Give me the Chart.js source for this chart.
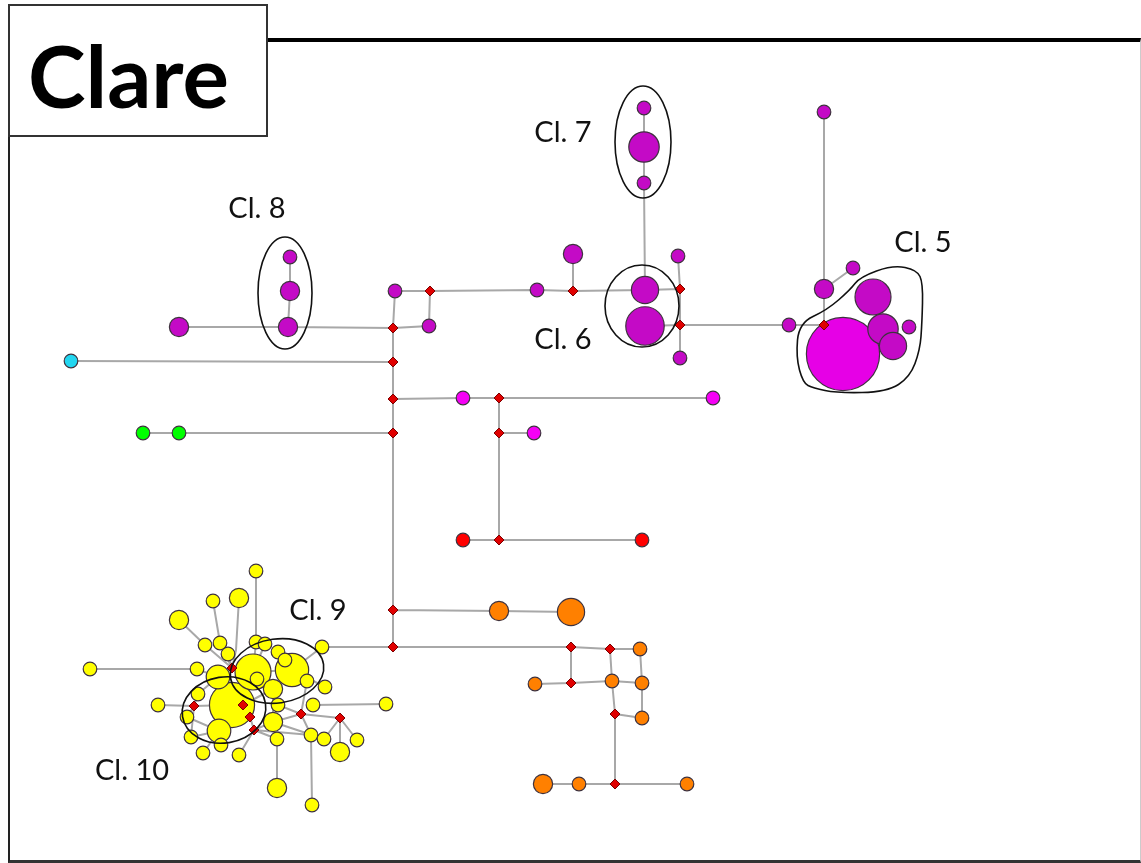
<!DOCTYPE html>
<html>
<head>
<meta charset="utf-8">
<script src="https://cdn.jsdelivr.net/npm/chart.js@4.4.0/dist/chart.umd.min.js"></script>
<style>
  html, body { margin: 0; padding: 0; background: #fff; }
  #wrap { position: relative; width: 1141px; height: 863px; overflow: hidden; }
  #net { position: absolute; left: 0; top: 0; }
  .frame {
    position: absolute; left: 8px; top: 38px; width: 1130px; height: 818px;
    border-top: 4px solid #000; border-left: 2px solid #222;
    border-bottom: 3px solid #333; border-right: 1px solid #ccc;
    pointer-events: none;
  }
  .title {
    position: absolute; left: 8px; top: 4px; width: 256px; height: 129px;
    border: 2px solid #333; background: #fff;
    font-family: Lato, "Open Sans", sans-serif; font-weight: bold; font-size: 87px;
    line-height: 129px; box-sizing: content-box;
  }
  .title span { position: absolute; left: 18px; top: 4px; color: #000; }
</style>
</head>
<body>
<div id="wrap">
  <canvas id="net" width="1141" height="863"></canvas>
  <div class="frame"></div>
  <div class="title"><span>Clare</span></div>
</div>
<script>
// haplotypes: [x, y, count] in layout units
const purpleNodes = [
  [290, 257, 1], [290, 291, 2], [288, 327, 2], [179, 327, 2],
  [395, 291, 1], [429, 326, 1], [537, 290, 1], [573, 254, 2],
  [678, 256, 1], [680, 358, 1],
  [644, 108, 1], [644, 147, 5], [644, 183, 1],
  [645, 290, 4], [645, 326, 8],
  [824, 112, 1], [824, 289, 2], [853, 268, 1], [789, 325, 1],
  [873, 297, 7], [883, 329, 5], [893, 346, 4], [909, 327, 1]
];
const pinkNodes = [[843, 354, 29]];
const magentaNodes = [[463, 398, 1], [713, 398, 1], [534, 433, 1]];
const redNodes = [[463, 540, 1], [642, 540, 1]];
const greenNodes = [[143, 433, 1], [179, 433, 1]];
const cyanNodes = [[71, 361, 1]];
const orangeNodes = [
  [499, 611, 2], [571, 612, 4], [640, 649, 1], [535, 684, 1],
  [612, 681, 1], [642, 683, 1], [642, 718, 1],
  [543, 784, 2], [579, 784, 1], [687, 784, 1]
];
const yellowNodes = [
  [256, 571, 1], [239, 598, 2], [213, 601, 1], [179, 620, 2], [90, 669, 1],
  [205, 645, 1], [220, 643, 1], [228, 654, 1], [256, 642, 1], [265, 644, 1],
  [278, 652, 1], [285, 660, 1], [322, 647, 1],
  [253, 672, 7], [292, 670, 6], [218, 677, 3], [232, 705, 11], [219, 731, 3],
  [273, 689, 2], [273, 722, 2], [307, 681, 1], [325, 687, 1], [257, 679, 1],
  [197, 669, 1], [198, 694, 1], [158, 705, 1], [187, 717, 1], [191, 737, 1],
  [221, 745, 1], [203, 753, 1], [239, 755, 1], [278, 705, 1], [277, 739, 1],
  [313, 705, 1], [311, 735, 1], [324, 739, 1], [340, 752, 2], [357, 740, 1],
  [386, 704, 1], [277, 788, 2], [312, 805, 1]
];
// median vectors
const medianVectors = [
  [393, 328], [393, 362], [393, 399], [393, 433], [393, 610], [393, 647],
  [430, 291], [573, 291], [680, 289], [680, 325], [824, 325],
  [499, 398], [499, 433], [499, 540],
  [571, 647], [610, 649], [571, 683], [615, 714], [615, 784],
  [232, 668], [194, 706], [243, 705], [250, 717], [254, 730], [301, 714], [340, 718]
];
// links, as paths through nodes
const edgePaths = [
  [[179, 327], [288, 327], [393, 328]],
  [[290, 257], [290, 291], [288, 327]],
  [[395, 291], [393, 328], [393, 362], [393, 399], [393, 433], [393, 610], [393, 647]],
  [[395, 291], [430, 291], [537, 290], [573, 291], [645, 290], [680, 289]],
  [[430, 291], [429, 326], [393, 328]],
  [[573, 254], [573, 291]],
  [[644, 108], [644, 147], [644, 183], [645, 290]],
  [[678, 256], [680, 289], [680, 325], [680, 358]],
  [[645, 326], [680, 325], [789, 325], [824, 325]],
  [[824, 112], [824, 289], [824, 325]],
  [[824, 289], [853, 268]],
  [[71, 361], [393, 362]],
  [[143, 433], [179, 433], [393, 433]],
  [[393, 399], [463, 398], [499, 398], [713, 398]],
  [[499, 398], [499, 433], [499, 540]],
  [[499, 433], [534, 433]],
  [[463, 540], [499, 540], [642, 540]],
  [[393, 610], [499, 611], [571, 612]],
  [[393, 647], [571, 647], [610, 649], [640, 649]],
  [[571, 647], [571, 683]],
  [[535, 684], [571, 683], [612, 681], [642, 683]],
  [[610, 649], [612, 681], [615, 714], [615, 784]],
  [[640, 649], [642, 683], [642, 718]],
  [[615, 714], [642, 718]],
  [[543, 784], [579, 784], [615, 784], [687, 784]],
  // clare cluster 9/10
  [[322, 647], [393, 647]],
  [[256, 571], [256, 642], [253, 672]],
  [[239, 598], [236, 650], [232, 668]],
  [[213, 601], [220, 643], [232, 668]],
  [[179, 620], [205, 645], [232, 668]],
  [[90, 669], [197, 669], [218, 677]],
  [[228, 654], [232, 668]],
  [[265, 644], [253, 672]],
  [[278, 652], [292, 670], [285, 660]],
  [[322, 647], [292, 670]],
  [[232, 668], [253, 672], [292, 670], [307, 681]],
  [[253, 672], [257, 679], [273, 689]],
  [[292, 670], [325, 687]],
  [[232, 668], [218, 677], [232, 705]],
  [[158, 705], [194, 706], [232, 705], [243, 705], [250, 717], [254, 730], [273, 722]],
  [[198, 694], [194, 706], [187, 717]],
  [[194, 706], [191, 737]],
  [[219, 731], [221, 745]],
  [[219, 731], [203, 753]],
  [[232, 705], [219, 731], [187, 717]],
  [[239, 755], [254, 730], [311, 735]],
  [[273, 689], [273, 722], [277, 739], [277, 788]],
  [[273, 689], [278, 705], [301, 714]],
  [[273, 722], [301, 714], [340, 718]],
  [[243, 705], [273, 689]],
  [[313, 705], [386, 704]],
  [[340, 718], [340, 752]],
  [[340, 718], [357, 740]],
  [[311, 735], [312, 805]],
  [[311, 735], [301, 714]],
  [[324, 739], [340, 718]],
  [[273, 722], [324, 739]],
  [[307, 681], [301, 714]],
  [[198, 694], [218, 677]],
  [[191, 737], [219, 731]],
  [[254, 730], [277, 739]]
];
const clusterNames = ['Cl. 5', 'Cl. 6', 'Cl. 7', 'Cl. 8', 'Cl. 9', 'Cl. 10'];
const clusterLabelAt = [[923, 243], [563, 340], [563, 133], [257, 209], [318, 611], [132, 771]];
// [cx, cy, rx, ry, tilt in degrees]; Cl. 5 uses an outline instead
const clusterEllipses = [
  null,
  [642, 306, 37, 41, 0],
  [643, 142, 28, 56, 0],
  [285, 293, 27, 56, 0],
  [277, 671, 47, 32, -8],
  [224, 710, 42, 33, -9]
];
const cl5Outline = [
  [803, 383], [796, 357], [799, 323], [827, 310], [850, 290], [860, 277],
  [893, 265], [917, 270], [923, 283], [922, 323], [920, 350], [910, 377],
  [887, 392], [837, 393], [813, 388]
];

const groupColors = {
  purple: '#c40ac6', pink: '#e600e6', magenta: '#f600f6', red: '#ff0000',
  green: '#00ff00', cyan: '#22d6f0', orange: '#ff8000', yellow: '#ffff00'
};
const groups = {
  purple: purpleNodes, pink: pinkNodes, magenta: magentaNodes, red: redNodes,
  green: greenNodes, cyan: cyanNodes, orange: orangeNodes, yellow: yellowNodes
};

const radiusFor = n => 6.8 * Math.sqrt(n);

const nodes = [];
Object.keys(groups).forEach(g => {
  groups[g].forEach(([x, y, n]) => nodes.push({ x, y, r: radiusFor(n), c: groupColors[g] }));
});
nodes.sort((a, b) => b.r - a.r);

const edgeData = [];
edgePaths.forEach(path => {
  path.forEach(([x, y]) => edgeData.push({ x, y }));
  edgeData.push({ x: null, y: null });
});

const overlay = {
  id: 'overlay',
  afterDatasetsDraw(chart) {
    const { ctx, scales: { x, y } } = chart;
    ctx.save();
    ctx.strokeStyle = '#111';
    ctx.lineWidth = 1.6;
    clusterEllipses.forEach(e => {
      if (!e) return;
      const [cx, cy, rx, ry, tilt] = e;
      const px = x.getPixelForValue(cx), py = y.getPixelForValue(cy);
      const prx = Math.abs(x.getPixelForValue(cx + rx) - px);
      const pry = Math.abs(y.getPixelForValue(cy + ry) - py);
      ctx.beginPath();
      ctx.ellipse(px, py, prx, pry, tilt * Math.PI / 180, 0, Math.PI * 2);
      ctx.stroke();
    });
    // smooth closed outline for Cl. 5
    const pts = cl5Outline.map(([a, b]) => [x.getPixelForValue(a), y.getPixelForValue(b)]);
    const mid = (p, q) => [(p[0] + q[0]) / 2, (p[1] + q[1]) / 2];
    ctx.beginPath();
    let m0 = mid(pts[pts.length - 1], pts[0]);
    ctx.moveTo(m0[0], m0[1]);
    for (let i = 0; i < pts.length; i++) {
      const p = pts[i], m = mid(p, pts[(i + 1) % pts.length]);
      ctx.quadraticCurveTo(p[0], p[1], m[0], m[1]);
    }
    ctx.closePath();
    ctx.stroke();

    ctx.fillStyle = '#111';
    ctx.font = '29px Lato, "Open Sans", sans-serif';
    ctx.textAlign = 'center';
    ctx.textBaseline = 'middle';
    clusterNames.forEach((name, i) => {
      const [a, b] = clusterLabelAt[i];
      ctx.fillText(name, x.getPixelForValue(a), y.getPixelForValue(b));
    });
    ctx.restore();
  }
};

new Chart(document.getElementById('net'), {
  type: 'scatter',
  data: {
    datasets: [
      {
        type: 'line',
        label: 'links',
        data: edgeData,
        borderColor: '#a8a8a8',
        borderWidth: 2,
        pointRadius: 0,
        spanGaps: false,
        fill: false,
        tension: 0,
        order: 3
      },
      {
        label: 'haplotypes',
        data: nodes.map(n => ({ x: n.x, y: n.y })),
        pointRadius: nodes.map(n => n.r),
        pointBackgroundColor: nodes.map(n => n.c),
        pointBorderColor: '#3e323e',
        pointBorderWidth: 1.2,
        pointStyle: 'circle',
        order: 2
      },
      {
        label: 'median vectors',
        data: medianVectors.map(([x, y]) => ({ x, y })),
        pointStyle: 'rectRot',
        pointRadius: 5,
        pointBackgroundColor: '#e00000',
        pointBorderColor: '#7a0000',
        pointBorderWidth: 1,
        order: 1
      }
    ]
  },
  options: {
    responsive: false,
    animation: false,
    events: [],
    layout: { padding: 0, autoPadding: false },
    plugins: { legend: { display: false }, tooltip: { enabled: false } },
    scales: {
      x: { type: 'linear', min: 0, max: 1141, display: false },
      y: { type: 'linear', min: 0, max: 863, reverse: true, display: false }
    }
  },
  plugins: [overlay]
});
</script>
</body>
</html>
